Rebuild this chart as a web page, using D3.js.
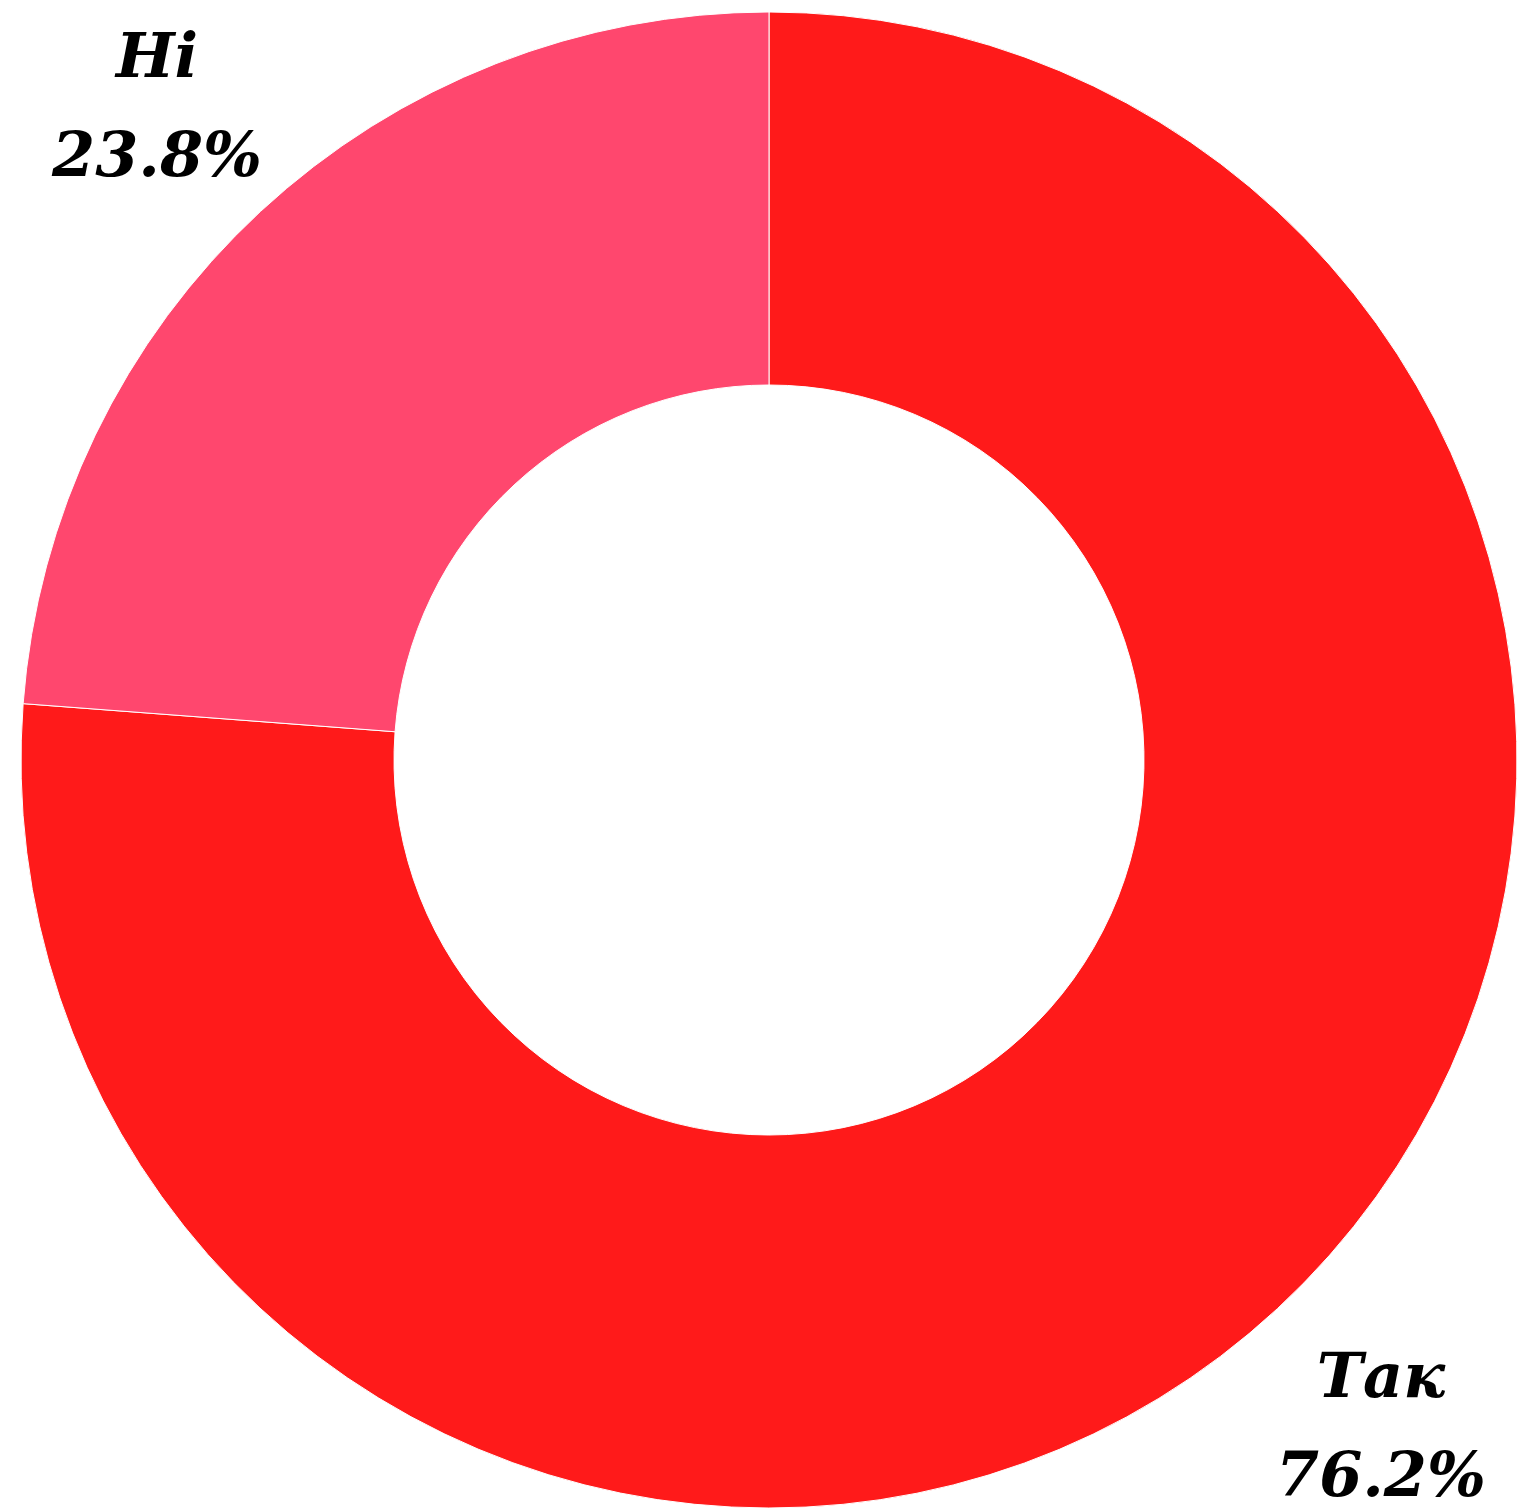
<!DOCTYPE html>
<html>
<head>
<meta charset="utf-8">
<script src="https://cdn.jsdelivr.net/npm/d3@7"></script>
<style>
  body { margin: 0; background: #fff; }
  svg { display: block; }
</style>
</head>
<body>
<div id="chart"></div>
<script>
var width = 1517;
var height = 1510;

var categories = ["Так", "Ні"];
var values = [76.2, 23.8];
var colors = ["#FF1A1A", "#FF476E"];

var cx = 769, cy = 760;
var outerR = 748, innerR = 375, labelR = 900;

var svg = d3.select("#chart").append("svg")
  .attr("width", width)
  .attr("height", height);

var g = svg.append("g").attr("transform", "translate(" + cx + "," + cy + ")");

var data = categories.map(function(c, i) { return { name: c, value: values[i], color: colors[i] }; });

var pie = d3.pie().sort(null).value(function(d) { return d.value; });
var arc = d3.arc().innerRadius(innerR).outerRadius(outerR);
var labelArc = d3.arc().innerRadius(labelR).outerRadius(labelR);

var arcs = pie(data);

g.selectAll("path.slice")
  .data(arcs)
  .enter().append("path")
  .attr("class", "slice")
  .attr("d", arc)
  .attr("fill", function(d) { return d.data.color; })
  .attr("stroke", "#fff")
  .attr("stroke-width", 1);

var labels = g.selectAll("text.label")
  .data(arcs)
  .enter().append("text")
  .attr("class", "label")
  .attr("transform", function(d) { return "translate(" + labelArc.centroid(d) + ")"; })
  .attr("text-anchor", "middle")
  .style("font-family", "'DejaVu Serif', serif")
  .style("font-style", "italic")
  .style("font-weight", "bold")
  .style("font-size", "62px")
  .attr("fill", "#000");

labels.append("tspan")
  .attr("x", 0)
  .attr("y", -23)
  .text(function(d) { return d.data.name; });

labels.append("tspan")
  .attr("x", 0)
  .attr("y", 76)
  .text(function(d) { return d.data.value.toFixed(1) + "%"; });
</script>
</body>
</html>
